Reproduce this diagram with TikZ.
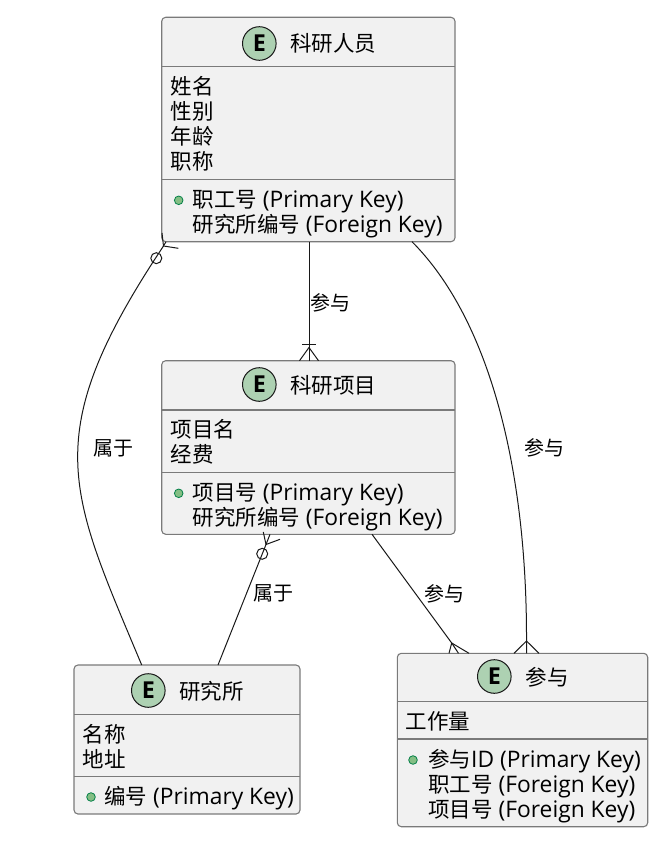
\documentclass[tikz,border=0pt]{standalone}
\usepackage{fontspec}
\setmainfont{Open Sans}[Scale=1.06]
\newfontfamily\cjk{Noto Sans CJK SC}
\definecolor{boxfill}{HTML}{F1F1F1}
\definecolor{boxline}{HTML}{7A7A7A}
\definecolor{edgec}{HTML}{181818}
\definecolor{egreen}{HTML}{ADD1B2}
\definecolor{dotfill}{HTML}{84BE84}
\definecolor{dotline}{HTML}{038048}
\begin{document}
\begin{tikzpicture}[x=1pt,y=-1pt,
  ebox/.style={draw=boxline, fill=boxfill, line width=1.1pt, rounded corners=4pt, inner sep=0, rectangle},
  sepline/.style={draw=boxline, line width=1.1pt},
  ecirc/.style={circle, draw=edgec, fill=egreen, line width=1pt, minimum size=33.6pt, inner sep=0, font=\bfseries\fontsize{22}{22}\selectfont},
  ttl/.style={anchor=base west, inner sep=0, font=\cjk\fontsize{21.5}{21.5}\selectfont},
  row/.style={anchor=base west, inner sep=0, font=\fontsize{21.5}{21.5}\selectfont},
  kdot/.style={circle, draw=dotline, fill=dotfill, line width=0.8pt, minimum size=8.6pt, inner sep=0},
  edge/.style={draw=edgec, line width=1pt},
  elabel/.style={inner sep=0, font=\cjk\fontsize{20}{20}\selectfont},
  zero/.style={circle, draw=edgec, line width=1pt, minimum size=11pt, inner sep=0},
]
\useasboundingbox (0,0) rectangle (670,845);

% ---------- 科研人员 ----------
\node[ebox, minimum width=293.3pt, minimum height=224.4pt] (ry) at (308.35,129.5) {};
\draw[sepline] (161.7,66.7) -- (455,66.7);
\draw[sepline] (161.7,179.5) -- (455,179.5);
\node[ecirc] (ry-e) at (259.3,43.5) {E};
\node[ttl] (ry-t) at (290,51.5) {科研人员};
\node[row] (ry-r1) at (170.5,94.2) {{\cjk 姓名}};
\node[row] (ry-r2) at (170.5,119.2) {{\cjk 性别}};
\node[row] (ry-r3) at (170.5,144.2) {{\cjk 年龄}};
\node[row] (ry-r4) at (170.5,169.2) {{\cjk 职称}};
\node[kdot] (ry-d1) at (178.7,200.3) {};
\node[row] (ry-k1) at (192.3,207.7) {{\cjk 职工号} (Primary Key)};
\node[row] (ry-k2) at (192.3,232.7) {{\cjk 研究所编号} (Foreign Key)};

% ---------- 科研项目 ----------
\node[ebox, minimum width=293.3pt, minimum height=173.6pt] (xm) at (308.35,447.5) {};
\draw[sepline] (161.7,410) -- (455,410);
\draw[sepline] (161.7,472.5) -- (455,472.5);
\node[ecirc] (xm-e) at (259.3,384.5) {E};
\node[ttl] (xm-t) at (290,393) {科研项目};
\node[row] (xm-r1) at (170.5,437.7) {{\cjk 项目名}};
\node[row] (xm-r2) at (170.5,462.7) {{\cjk 经费}};
\node[kdot] (xm-d1) at (178.7,493.3) {};
\node[row] (xm-k1) at (192.3,500.7) {{\cjk 项目号} (Primary Key)};
\node[row] (xm-k2) at (192.3,525.7) {{\cjk 研究所编号} (Foreign Key)};

% ---------- 研究所 ----------
\node[ebox, minimum width=226pt, minimum height=149pt] (yjs) at (187,739.5) {};
\draw[sepline] (74,714.3) -- (300,714.3);
\draw[sepline] (74,776.7) -- (300,776.7);
\node[ecirc] (yjs-e) at (148.3,690.5) {E};
\node[ttl] (yjs-t) at (179,699) {研究所};
\node[row] (yjs-r1) at (82.3,742.2) {{\cjk 名称}};
\node[row] (yjs-r2) at (82.3,767.2) {{\cjk 地址}};
\node[kdot] (yjs-d1) at (91,797) {};
\node[row] (yjs-k1) at (104,804.2) {{\cjk 编号} (Primary Key)};

% ---------- 参与 ----------
\node[ebox, minimum width=250.4pt, minimum height=173.4pt] (cy) at (522.5,740) {};
\draw[sepline] (397.3,701.7) -- (647.7,701.7);
\draw[sepline] (397.3,739) -- (647.7,739);
\node[ecirc] (cy-e) at (494.3,676.5) {E};
\node[ttl] (cy-t) at (525.7,685.2) {参与};
\node[row] (cy-r1) at (405.7,729.9) {{\cjk 工作量}};
\node[kdot] (cy-d1) at (413,760) {};
\node[row] (cy-k1) at (428,767.2) {{\cjk 参与}ID (Primary Key)};
\node[row] (cy-k2) at (428,792.2) {{\cjk 职工号} (Foreign Key)};
\node[row] (cy-k3) at (428,817.2) {{\cjk 项目号} (Foreign Key)};

% ---------- edge a: 科研人员 -> 科研项目 ----------
\coordinate (a0) at (309,241.7);
\coordinate (a-ap) at (309,347.5);
\coordinate (a1) at (309,360.7);
\coordinate (a-tl) at (299.5,360.7);
\coordinate (a-tr) at (318.5,360.7);
\coordinate (a-bl) at (302,344.5);
\coordinate (a-br) at (315.5,344.5);
\draw[edge] (a0) -- (a1);
\draw[edge] (a-tl) -- (a-ap) -- (a-tr);
\draw[edge] (a-bl) -- (a-br);
\node[elabel] (la) at (330.7,302.5) {参与};

% ---------- edge b: 科研人员 -> 研究所 ----------
\coordinate (b-ap) at (163.5,246);
\coordinate (b-tl) at (162,233);
\coordinate (b-tm) at (166,241.7);
\coordinate (b-tr) at (178.3,248.3);
\coordinate (b0) at (141.7,665);
\draw[edge] (b-ap) .. controls (37,436) and (68.5,490) .. (b0);
\draw[edge] (b-tl) -- (b-ap) -- (b-tr);
\draw[edge] (b-ap) -- (b-tm);
\node[zero] (zb) at (156.3,258.2) {};
\node[elabel] (lb) at (113.3,448.3) {属于};

% ---------- edge c: 科研人员 -> 参与 ----------
\coordinate (c0) at (412,241.7);
\coordinate (c-ap) at (526.5,641);
\coordinate (c1) at (526.5,653.3);
\coordinate (c-tl) at (514,653.3);
\coordinate (c-tr) at (539,653.3);
\draw[edge] (c0) .. controls (490,320) and (527,470) .. (c-ap) -- (c1);
\draw[edge] (c-tl) -- (c-ap) -- (c-tr);
\node[elabel] (lc) at (544,448.3) {参与};

% ---------- edge d: 科研项目 -> 参与 ----------
\coordinate (d0) at (372,534.3);
\coordinate (d-ap) at (451.7,643);
\coordinate (d1) at (458.5,653.3);
\coordinate (d-tl) at (449,653.3);
\coordinate (d-tr) at (469,653.3);
\draw[edge] (d0) -- (d-ap) -- (d1);
\draw[edge] (d-tl) -- (d-ap) -- (d-tr);
\node[elabel] (ld) at (444,593.5) {参与};

% ---------- edge e: 科研项目 -> 研究所 ----------
\coordinate (e0) at (218,665);
\coordinate (e-ap) at (266,544.5);
\coordinate (e-tl) at (263.3,532);
\coordinate (e-tm) at (270,534.3);
\coordinate (e-tr) at (280,539.3);
\draw[edge] (e0) -- (e-ap) -- (e-tm);
\draw[edge] (e-tl) -- (e-ap) -- (e-tr);
\node[zero] (ze) at (262.2,553.8) {};
\node[elabel] (le) at (273.3,593.5) {属于};
\end{tikzpicture}
\end{document}
